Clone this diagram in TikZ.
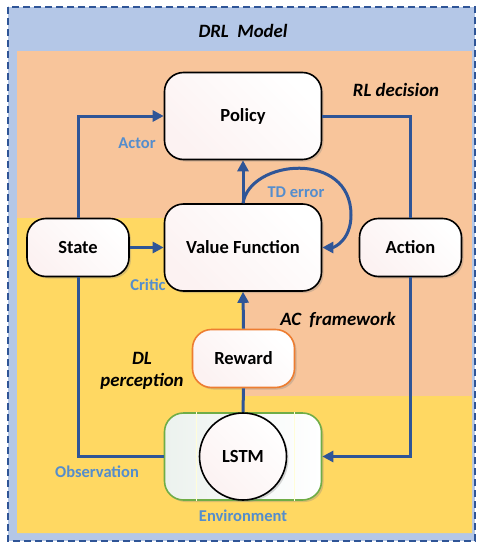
\documentclass[tikz,border=0pt]{standalone}
\usepackage{fontspec}
\setmainfont{Carlito}
\usepackage{tikz}
\usetikzlibrary{arrows.meta, positioning, shadows}
\usepackage{xcolor}

\definecolor{drlblue}{RGB}{180,199,231}
\definecolor{rlorange}{RGB}{248,197,155}
\definecolor{dlyellow}{RGB}{255,216,98}
\definecolor{linkblue}{RGB}{47,85,151}
\definecolor{labelblue}{RGB}{84,141,205}
\definecolor{envgreen}{RGB}{112,173,71}
\definecolor{envtint}{RGB}{236,242,238}
\definecolor{rewardorange}{RGB}{237,125,49}
\definecolor{boxtint}{RGB}{252,242,242}

\begin{document}
\begin{tikzpicture}[x=1pt, y=-1pt,
        box/.style={rectangle, draw=black, line width=1.6pt, rounded corners=19pt, inner sep=0pt,
            left color=boxtint, right color=white, shading angle=135,
            font=\fontsize{18.5}{22}\selectfont\bfseries,
            drop shadow={opacity=0.3, shadow xshift=2pt, shadow yshift=-2pt}},
        big/.style={box, minimum width=157pt, minimum height=87pt},
        small/.style={box, minimum width=102pt, minimum height=58pt},
        link/.style={draw=linkblue, line width=3pt},
        arr/.style={link, -{Triangle[length=11pt, width=11pt]}},
        lbl/.style={font=\fontsize{16.5}{19}\selectfont\bfseries, text=labelblue},
        title/.style={font=\fontsize{18.8}{22}\selectfont\bfseries\itshape, align=center},
        envline/.style={draw=yellow!15!white, line width=0.5pt},
    ]
        \useasboundingbox (0,0) rectangle (479,543);

        % Regions
        \draw[linkblue, fill=drlblue, line width=1.4pt, dash pattern=on 7pt off 4pt] (8,7) rectangle (475,541);
        \fill[rlorange] (17,51) rectangle (472,533);
        \fill[dlyellow] (17,218) -- (243,218) -- (243,396) -- (472,396) -- (472,533) -- (17,533) -- cycle;

        \node[title] (drl) at (243,31) {DRL~~Model};
        \node[title] (rl) at (396,90) {RL decision};
        \node[title] (ac) at (338,320) {AC~~framework};
        \node[title, font=\fontsize{18.8}{21.5}\selectfont\bfseries\itshape] (dl) at (142,371) {DL\\perception};

        % Actor and critic
        \node[big] (policy) at (243,116) {Policy};
        \node[big] (value) at (243,247.5) {Value Function};
        \node[small] (state) at (78,247.5) {State};
        \node[small] (action) at (410.5,247.5) {Action};

        % Reward
        \node[small, draw=rewardorange] (reward) at (243.5,358.5) {Reward};

        % Environment
        \node[box, draw=envgreen, left color=envtint, right color=white, minimum width=157pt, minimum height=87pt] (env) at (243,456.5) {};
        \draw[envline] ([xshift=-47pt]env.north) -- ([xshift=-47pt]env.south);
        \draw[envline] ([xshift=51pt]env.north) -- ([xshift=51pt]env.south);
        \node[box, circle, minimum size=87pt] (lstm) at (243,456.5) {LSTM};
        \node[lbl] (envlbl) at (243,516) {Environment};

        % Arrows
        \draw[arr] (state.north) |- (policy.west);
        \draw[arr] (state.east) -- (value.west);
        \draw[arr] (value.north) -- (policy.south);
        \draw[link] (policy.east) -| (action.north);
        \draw[arr] (action.south) |- (env.east);
        \draw[link] (env.west) -| (state.south);
        \draw[link] (lstm.north) -- (reward.south);
        \draw[arr] (reward.north) -- (value.south);
        \coordinate (tdturn) at (351,215);
        \draw[arr] (value.north) .. controls +(7,-44) and +(0,-65) .. (tdturn)
            .. controls +(0,25) and +(12,0) .. (value.east);

        % Labels
        \node[lbl] (actor) at (137,143) {Actor};
        \node[lbl] (critic) at (148,285) {Critic};
        \node[lbl] (td) at (296,192) {TD error};
        \node[lbl] (obs) at (97,472) {Observation};
    \end{tikzpicture}
\end{document}
